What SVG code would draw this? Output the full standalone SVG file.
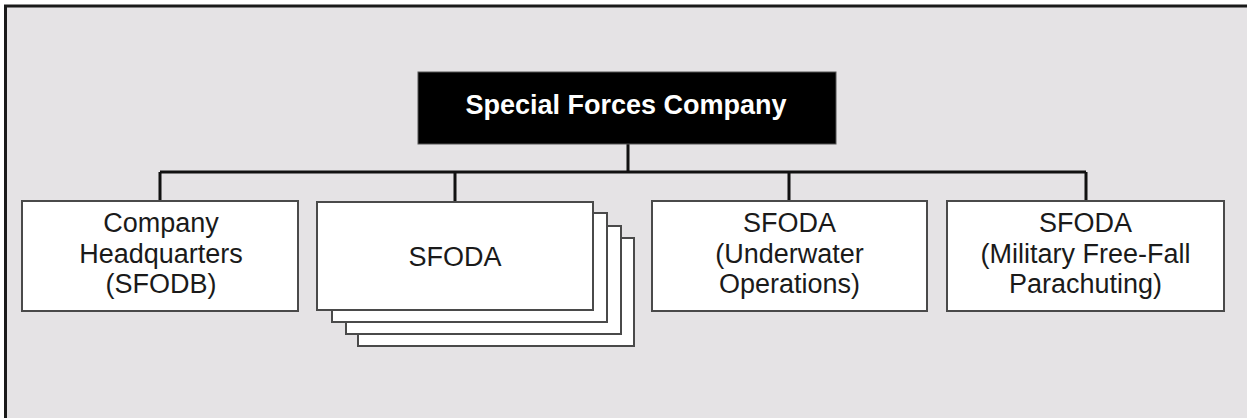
<svg xmlns="http://www.w3.org/2000/svg" width="1247" height="418" viewBox="0 0 1247 418">
<style>
.box{fill:#ffffff;stroke:#4a4a4a;stroke-width:2}
.lbl{font-family:"Liberation Sans",Arial,sans-serif;font-size:27px;fill:#1a1a1a;text-anchor:middle}
.title{font-family:"Liberation Sans",Arial,sans-serif;font-size:27px;font-weight:bold;fill:#ffffff;text-anchor:middle}
.conn{fill:none;stroke:#111111;stroke-width:3}
</style>
<rect x="0" y="0" width="1247" height="418" fill="#ffffff"/>
<rect x="5.5" y="6" width="1260" height="430" fill="#e5e3e5" stroke="#1a1a1a" stroke-width="3"/>
<g id="connectors">
<path class="conn" d="M628 144 V172 M160 172 H1086 M160 172 V201 M455 172 V202 M789 172 V201 M1086 172 V201"/>
</g>
<g id="company">
<rect x="418" y="72" width="418" height="72" fill="#000000" stroke="#555555" stroke-width="1"/>
<text class="title" x="626" y="114">Special Forces Company</text>
</g>
<g id="hq">
<rect class="box" x="22" y="201" width="276" height="110"/>
<text class="lbl" x="161" y="232">Company</text>
<text class="lbl" x="161" y="263">Headquarters</text>
<text class="lbl" x="161" y="293">(SFODB)</text>
</g>
<g id="sfoda">
<rect class="box" x="358" y="238" width="276" height="108"/>
<rect class="box" x="346" y="226" width="275" height="108"/>
<rect class="box" x="332" y="213" width="275" height="109"/>
<rect class="box" x="317" y="202" width="276" height="108"/>
<text class="lbl" x="455" y="266">SFODA</text>
</g>
<g id="underwater">
<rect class="box" x="652" y="201" width="275" height="110"/>
<text class="lbl" x="789.5" y="232">SFODA</text>
<text class="lbl" x="789.5" y="263">(Underwater</text>
<text class="lbl" x="789.5" y="293">Operations)</text>
</g>
<g id="freefall">
<rect class="box" x="947" y="201" width="277" height="110"/>
<text class="lbl" x="1085.5" y="232">SFODA</text>
<text class="lbl" x="1085.5" y="263">(Military Free-Fall</text>
<text class="lbl" x="1085.5" y="293">Parachuting)</text>
</g>
</svg>
